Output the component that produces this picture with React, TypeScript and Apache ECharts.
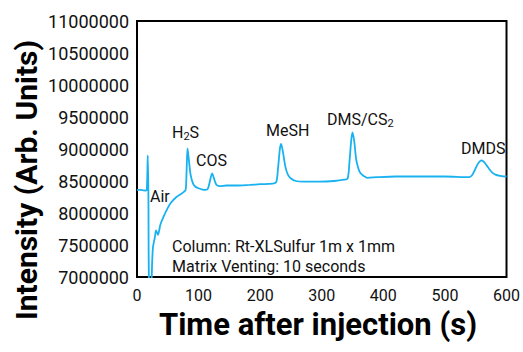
import React, { useEffect, useRef } from "react";
import * as echarts from "echarts";

const times: number[] = [
  0, 5, 10, 14, 16, 17.5, 18.5, 19.5, 22, 23.5, 24.5, 26, 29, 31, 34, 38, 43, 50, 55, 64, 72, 76, 79,
  80.5, 82, 84, 87, 91, 95, 99, 105, 110, 115, 118, 122, 125, 129, 134, 145, 160, 183, 200, 220,
  226, 229, 232, 234, 237, 241, 245, 250, 258, 270, 280, 296, 320, 336, 342, 345, 348, 350, 353,
  356, 360, 363, 368, 374, 390, 420, 458, 500, 539, 544, 548, 553, 557, 560, 564, 568, 571, 576,
  582, 590, 598, 600,
];
const intensity: number[] = [
  8360000, 8360000, 8355000, 8350000, 8370000, 8900000, 8300000, 6900000, 6800000, 6900000, 7200000,
  7470000, 7620000, 7730000, 7660000, 7820000, 7940000, 8080000, 8160000, 8250000, 8300000, 8330000,
  8360000, 8650000, 9010000, 8850000, 8600000, 8460000, 8410000, 8390000, 8370000, 8360000, 8380000,
  8480000, 8620000, 8540000, 8440000, 8420000, 8430000, 8430000, 8440000, 8450000, 8460000, 8480000,
  8700000, 9000000, 9080000, 8950000, 8720000, 8600000, 8540000, 8500000, 8490000, 8490000, 8490000,
  8500000, 8520000, 8540000, 8800000, 9150000, 9260000, 9100000, 8830000, 8680000, 8620000, 8580000,
  8550000, 8560000, 8570000, 8570000, 8570000, 8560000, 8590000, 8660000, 8760000, 8810000, 8820000,
  8790000, 8740000, 8700000, 8640000, 8600000, 8580000, 8570000, 8570000,
];

const xTitle = "Time after injection (s)";
const yTitle = "Intensity (Arb. Units)";
const noteLines = ["Column: Rt-XLSulfur 1m x 1mm", "Matrix Venting: 10 seconds"];

const FONT = "Roboto, 'Noto Sans', sans-serif";

export default function App() {
  const ref = useRef<HTMLDivElement>(null);
  useEffect(() => {
    if (!ref.current) return;
    const chart = echarts.init(ref.current, undefined, { renderer: "svg" });
    const data = times.map((t, i) => [t, intensity[i]]);
    const lab = { fontFamily: FONT, fontSize: 16, fill: "#111" };
    const rich = {
      n: { fontFamily: FONT, fontSize: 16, color: "#111" },
      s: { fontFamily: FONT, fontSize: 11, color: "#111", verticalAlign: "bottom", padding: [8, 0, 0, 0] },
    };
    const txt = (x: number, y: number, text: string, useRich = false) => ({
      type: "text",
      x,
      y,
      style: useRich
        ? { text, rich, textVerticalAlign: "middle", fill: "#111", fontFamily: FONT, fontSize: 16 }
        : { ...lab, text, textVerticalAlign: "middle" },
    });
    chart.setOption({
      animation: false,
      textStyle: { fontFamily: FONT },
      grid: {
        left: 137,
        right: 15,
        top: 21,
        bottom: 75,
        show: true,
        borderColor: "#000",
        borderWidth: 2,
        backgroundColor: "transparent",
      },
      xAxis: {
        type: "value",
        min: 0,
        max: 600,
        interval: 100,
        axisLine: { show: false },
        axisTick: { show: false },
        splitLine: { show: false },
        axisLabel: { fontFamily: FONT, fontSize: 16, color: "#111", margin: 10 },
      },
      yAxis: {
        type: "value",
        min: 7000000,
        max: 11000000,
        interval: 500000,
        axisLine: { show: false },
        axisTick: { show: false },
        splitLine: { show: false },
        axisLabel: {
          fontFamily: FONT,
          fontSize: 18,
          color: "#111",
          margin: 8,
          formatter: (v: number) => String(v),
        },
      },
      series: [
        {
          type: "line",
          data,
          showSymbol: false,
          smooth: 0.3,
          clip: true,
          lineStyle: { color: "#19B2F0", width: 1.8 },
        },
      ],
      graphic: [
        {
          type: "text",
          x: 26,
          y: 180,
          rotation: Math.PI / 2,
          style: {
            text: yTitle,
            fontFamily: FONT,
            fontSize: 30,
            fontWeight: "bold",
            fill: "#000",
            textAlign: "center",
            textVerticalAlign: "middle",
          },
        },
        {
          type: "text",
          x: 318,
          y: 324,
          style: {
            text: xTitle,
            fontFamily: FONT,
            fontSize: 31,
            fontWeight: "bold",
            fill: "#000",
            textAlign: "center",
            textVerticalAlign: "middle",
          },
        },
        txt(150, 196, "Air"),
        txt(172, 132, "{n|H}{s|2}{n|S}", true),
        txt(196, 160, "COS"),
        txt(266, 130, "MeSH"),
        txt(327, 119, "{n|DMS/CS}{s|2}", true),
        txt(461, 148, "DMDS"),
        txt(172, 246, noteLines[0]),
        txt(172, 266, noteLines[1]),
      ],
    });
    return () => chart.dispose();
  }, []);
  return (
    <div
      ref={ref}
      style={{ width: 523, height: 352, position: "absolute", left: 0, top: 0 }}
    />
  );
}
